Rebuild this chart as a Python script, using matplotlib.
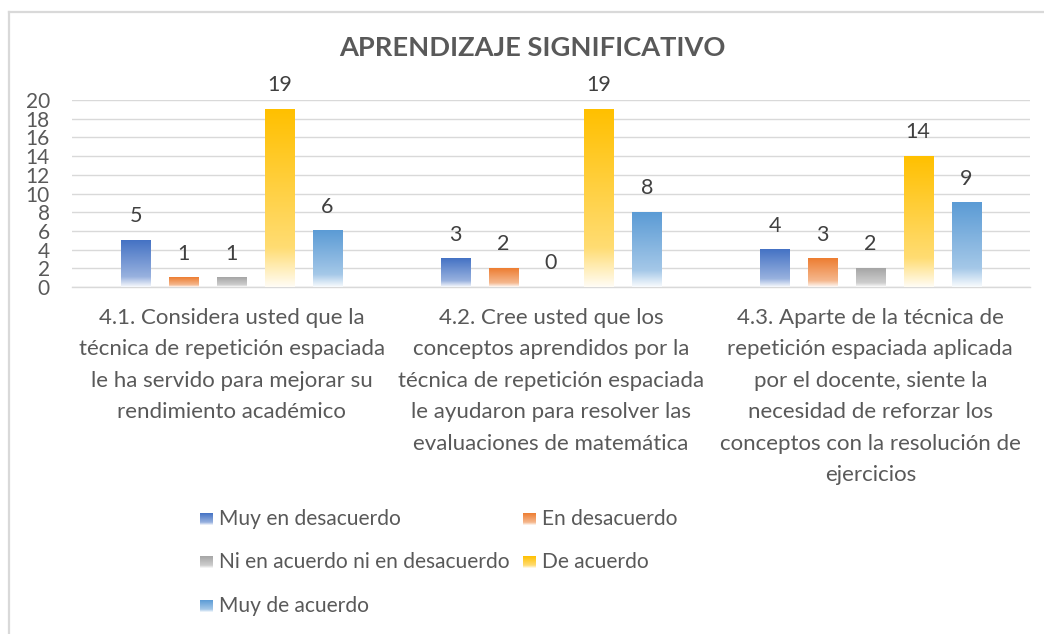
import numpy as np
import matplotlib.pyplot as plt
from matplotlib.colors import to_rgb

plt.rcParams['font.family'] = ['Lato', 'DejaVu Sans']

# data
title = "APRENDIZAJE SIGNIFICATIVO"
categories = [
    "4.1. Considera usted que la\ntécnica de repetición espaciada\nle ha servido para mejorar su\nrendimiento académico",
    "4.2. Cree usted que los\nconceptos aprendidos por la\ntécnica de repetición espaciada\nle ayudaron para resolver las\nevaluaciones de matemática",
    "4.3. Aparte de la técnica de\nrepetición espaciada aplicada\npor el docente, siente la\nnecesidad de reforzar los\nconceptos con la resolución de\nejercicios",
]
series_names = ["Muy en desacuerdo", "En desacuerdo", "Ni en acuerdo ni en desacuerdo",
                "De acuerdo", "Muy de acuerdo"]
muy_desacuerdo = [5, 3, 4]
desacuerdo = [1, 2, 3]
neutral = [1, 0, 2]
de_acuerdo = [19, 19, 14]
muy_acuerdo = [6, 8, 9]
series_values = [muy_desacuerdo, desacuerdo, neutral, de_acuerdo, muy_acuerdo]
colors = ["#4472C4", "#ED7D31", "#A5A5A5", "#FFC000", "#5B9BD5"]
yticks = list(range(0, 21, 2))

W, H = 1044, 634
txt = "#595959"


def grad_img(color, n=200):
    # excel-like fill: solid on top, fading to white at the bottom
    c = np.array(to_rgb(color))
    w = np.ones(3)
    t = np.linspace(0, 1, n)  # 0 = top, 1 = bottom
    mix = np.interp(t, [0, 0.78, 1.0], [0.0, 0.45, 0.96])
    rows = c[None, :] * (1 - mix[:, None]) + w[None, :] * mix[:, None]
    return rows[:, None, :]


fig = plt.figure(figsize=(W / 100, H / 100), dpi=100)

# overlay in pixel coords for frame, title and legend
over = fig.add_axes([0, 0, 1, 1])
over.set_xlim(0, W)
over.set_ylim(H, 0)
over.axis('off')
over.plot([8.5, 8.5], [H, 11.5], color="#D9D9D9", lw=1.6)
over.plot([8.5, W], [11.5, 11.5], color="#D9D9D9", lw=1.6)
over.text(532, 48, title, ha='center', va='center', fontsize=19.6,
          fontweight='bold', color=txt)

ax = fig.add_axes([72 / W, 1 - 287 / H, (1030 - 72) / W, (287 - 100) / H])
x = np.arange(len(categories))
bw = 0.091
step = 0.15
for i, (vals, col) in enumerate(zip(series_values, colors)):
    pos = x + (i - 2) * step
    bars = ax.bar(pos, vals, width=bw, color='none', zorder=3)
    for r, v in zip(bars, vals):
        if v > 0:
            ax.imshow(grad_img(col), extent=[r.get_x(), r.get_x() + bw, 0, v],
                      aspect='auto', zorder=3, interpolation='bilinear')
        ax.annotate(str(v), (r.get_x() + bw / 2, v), xytext=(0, 13),
                    textcoords='offset points', ha='center', va='baseline',
                    fontsize=15.5, color="#404040")

ax.set_xlim(-0.5, len(categories) - 0.5)
ax.set_ylim(0, 20)
ax.set_yticks(yticks)
ax.set_xticks([])
ax.grid(axis='y', color="#D9D9D9", lw=1.0, zorder=0)
ax.set_axisbelow(True)
for s in ['left', 'right', 'top']:
    ax.spines[s].set_visible(False)
ax.spines['bottom'].set_color("#D9D9D9")
ax.spines['bottom'].set_linewidth(1.0)
ax.tick_params(axis='y', length=0, pad=16, labelsize=15, labelcolor=txt)

for xi, lab in zip(x, categories):
    ax.text(xi, -0.11, lab, transform=ax.get_xaxis_transform(), ha='center',
            va='top', fontsize=16, color=txt, linespacing=1.72)

# legend
leg_pos = [(200, 519), (523, 519), (200, 562), (523, 562), (200, 606)]
for name, col, (lx, ly) in zip(series_names, colors, leg_pos):
    over.imshow(grad_img(col), extent=[lx, lx + 13, ly + 6, ly - 6],
                aspect='auto', interpolation='bilinear')
    over.text(lx + 19, ly, name, ha='left', va='center', fontsize=15.1, color=txt)
over.set_xlim(0, W)
over.set_ylim(H, 0)

fig.savefig("out.png", dpi=100)
